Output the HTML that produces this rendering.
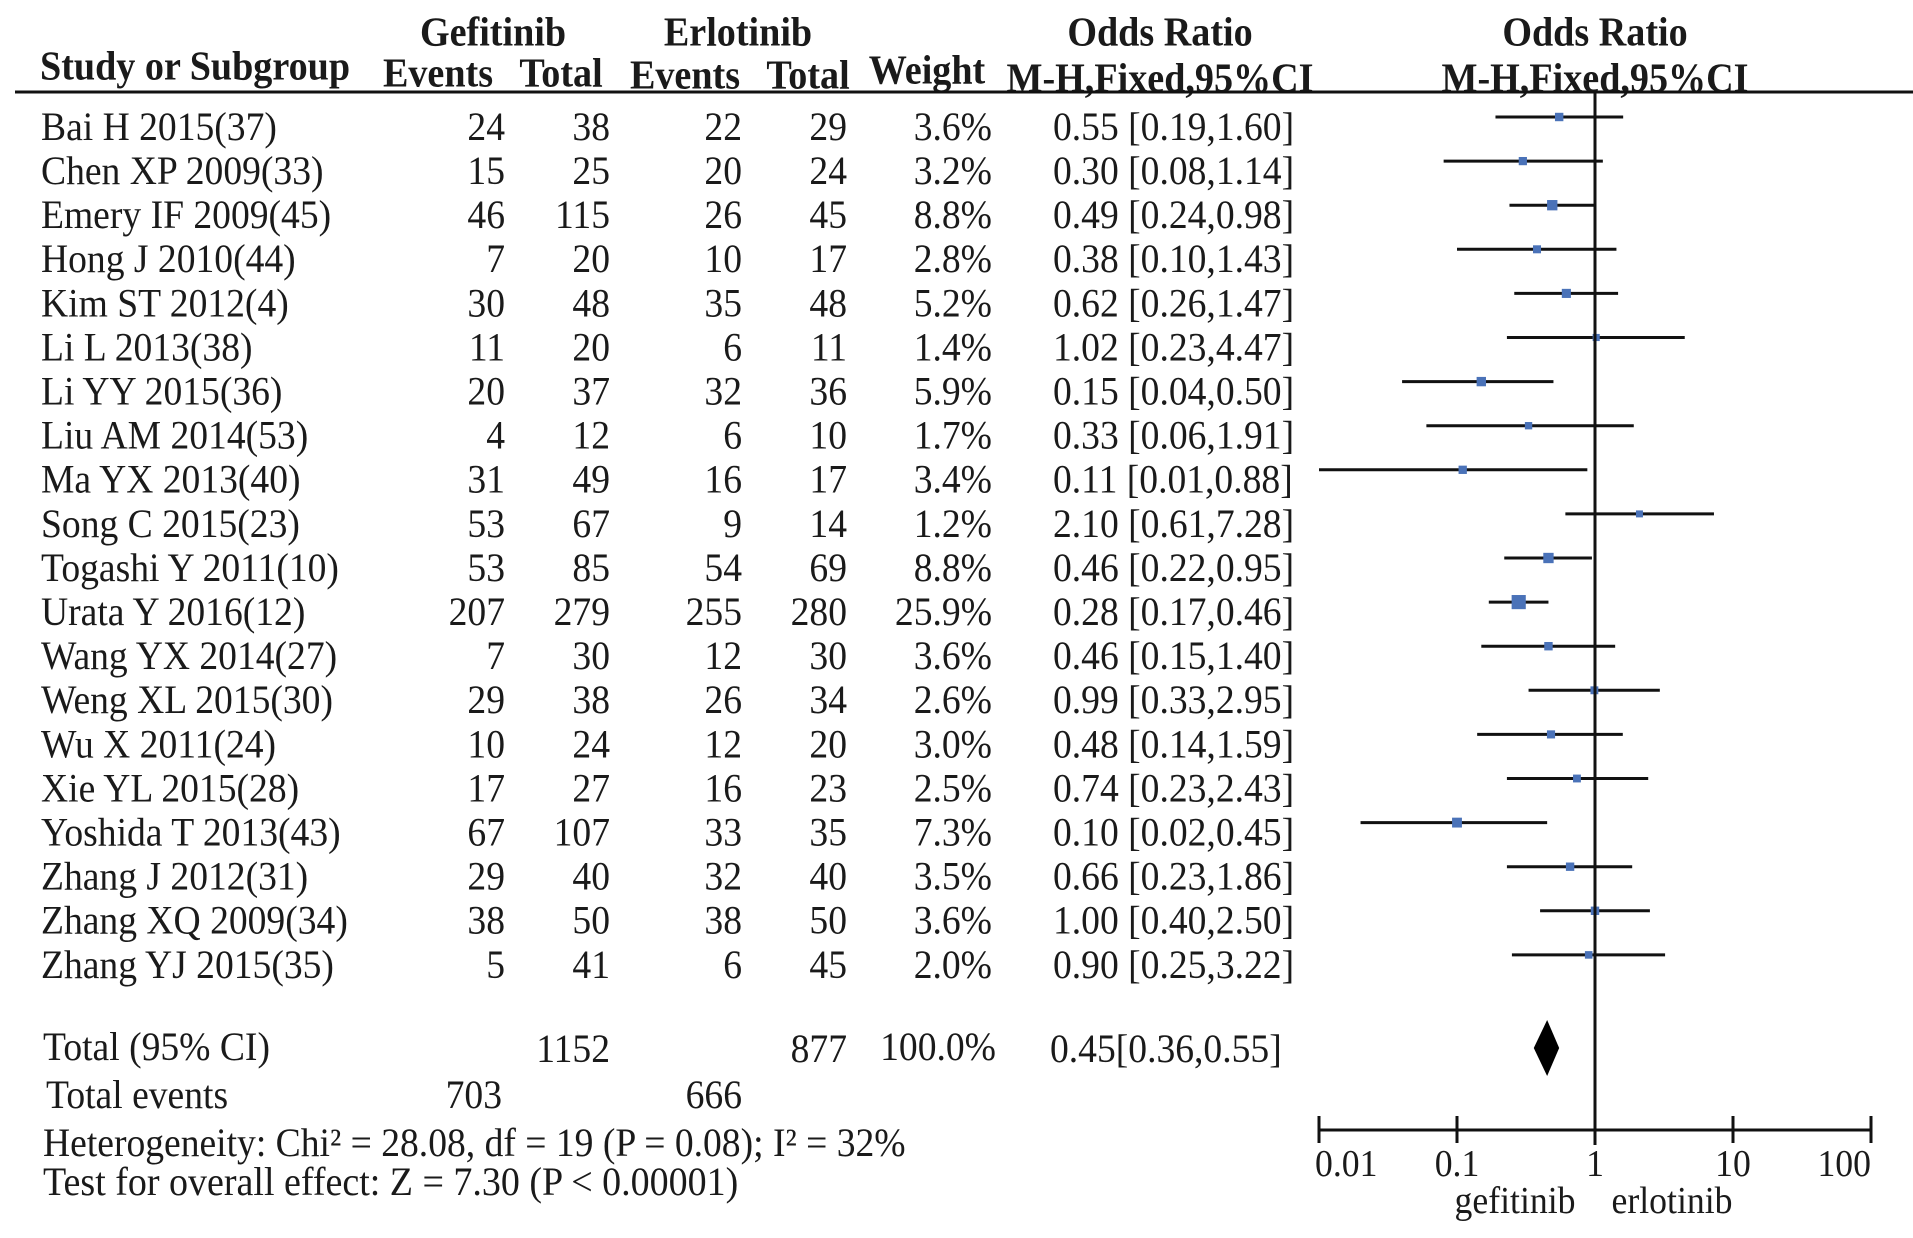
<!DOCTYPE html>
<html><head><meta charset="utf-8"><style>
html,body{margin:0;padding:0;background:#fff;}
svg{display:block;}
text{font-family:"Liberation Serif",serif;fill:#1a1a1a;}
.b{font-weight:bold;}
</style></head><body>
<svg id="chart" width="1913" height="1238" viewBox="0 0 1913 1238" xmlns="http://www.w3.org/2000/svg">
<g id="hdr"></g>
<g id="rows"></g>
<g id="plot"></g>
</svg>
<script>
const studies=["Bai H 2015(37)","Chen XP 2009(33)","Emery IF 2009(45)","Hong J 2010(44)","Kim ST 2012(4)","Li L 2013(38)","Li YY 2015(36)","Liu AM 2014(53)","Ma YX 2013(40)","Song C 2015(23)","Togashi Y 2011(10)","Urata Y 2016(12)","Wang YX 2014(27)","Weng XL 2015(30)","Wu X 2011(24)","Xie YL 2015(28)","Yoshida T 2013(43)","Zhang J 2012(31)","Zhang XQ 2009(34)","Zhang YJ 2015(35)"];
const gefEvents=[24,15,46,7,30,11,20,4,31,53,53,207,7,29,10,17,67,29,38,5];
const gefTotal=[38,25,115,20,48,20,37,12,49,67,85,279,30,38,24,27,107,40,50,41];
const erlEvents=[22,20,26,10,35,6,32,6,16,9,54,255,12,26,12,16,33,32,38,6];
const erlTotal=[29,24,45,17,48,11,36,10,17,14,69,280,30,34,20,23,35,40,50,45];
const weights=[3.6,3.2,8.8,2.8,5.2,1.4,5.9,1.7,3.4,1.2,8.8,25.9,3.6,2.6,3.0,2.5,7.3,3.5,3.6,2.0];
const orVals=[0.55,0.30,0.49,0.38,0.62,1.02,0.15,0.33,0.11,2.10,0.46,0.28,0.46,0.99,0.48,0.74,0.10,0.66,1.00,0.90];
const ciLow=[0.19,0.08,0.24,0.10,0.26,0.23,0.04,0.06,0.01,0.61,0.22,0.17,0.15,0.33,0.14,0.23,0.02,0.23,0.40,0.25];
const ciHigh=[1.60,1.14,0.98,1.43,1.47,4.47,0.50,1.91,0.88,7.28,0.95,0.46,1.40,2.95,1.59,2.43,0.45,1.86,2.50,3.22];
const totalOR=[0.45,0.36,0.55];
const tickVals=[0.01,0.1,1,10,100];
const tickLabels=["0.01","0.1","1","10","100"];

const NS="http://www.w3.org/2000/svg";
const X1=1595, DEC=138;
function xs(v){return X1+DEC*Math.log10(v);}
function rowY(i){return 127+i*44.1;}
function fmt(v){return v.toFixed(2);}
function T(parent,str,x,y,anchor,cls,size,sx){
  const t=document.createElementNS(NS,'text');
  t.setAttribute('transform','translate('+x+','+y+') scale('+(sx||0.94)+',1)');
  t.setAttribute('text-anchor',anchor||'start');
  t.setAttribute('dominant-baseline','central');
  t.setAttribute('font-size',size||40);
  if(cls)t.setAttribute('class',cls);
  t.textContent=str;parent.appendChild(t);return t;
}
function H(str,x,y,anchor){return T(hdr,str,x,y,anchor,'b',41,0.93);}
function L(parent,x1,y1,x2,y2,w){
  const l=document.createElementNS(NS,'line');
  l.setAttribute('x1',x1);l.setAttribute('y1',y1);l.setAttribute('x2',x2);l.setAttribute('y2',y2);
  l.setAttribute('stroke','#111');l.setAttribute('stroke-width',w||3);
  parent.appendChild(l);return l;
}
const hdr=document.getElementById('hdr'),rows=document.getElementById('rows'),plot=document.getElementById('plot');
let e;
e=H('Gefitinib',493,32,'middle');
e=H('Erlotinib',738,32,'middle');
e=H('Odds Ratio',1160,32,'middle');
e=H('Odds Ratio',1595,32,'middle');
e=H('Study or Subgroup',40,66,'start');
e=H('Events',438,73,'middle');
e=H('Total',561,73,'middle');
e=H('Events',685,75,'middle');
e=H('Total',808,75,'middle');
e=H('Weight',927,70,'middle');
e=H('M-H,Fixed,95%CI',1160,78,'middle');
e=H('M-H,Fixed,95%CI',1595,78,'middle');
e=L(hdr,15,92,1913,92,3);

for(let i=0;i<studies.length;i++){
  const y=rowY(i);
  e=T(rows,studies[i],41,y,'start');
  e=T(rows,String(gefEvents[i]),505,y,'end');
  e=T(rows,String(gefTotal[i]),610,y,'end');
  e=T(rows,String(erlEvents[i]),742,y,'end');
  e=T(rows,String(erlTotal[i]),847,y,'end');
  e=T(rows,weights[i].toFixed(1)+'%',992,y,'end');
  e=T(rows,fmt(orVals[i])+' ['+fmt(ciLow[i])+','+fmt(ciHigh[i])+']',1053,y,'start');
  const cy=y-10;
  e=L(plot,xs(ciLow[i]),cy,xs(ciHigh[i]),cy,3);
  const s=5+Math.sqrt(weights[i])*1.8;
  const r=document.createElementNS(NS,'rect');
  r.setAttribute('x',xs(orVals[i])-s/2);r.setAttribute('y',cy-s/2);r.setAttribute('width',s);r.setAttribute('height',s);
  r.setAttribute('fill','#4a72b8');
  
  
  plot.appendChild(r);
}
e=T(rows,'Total (95% CI)',43,1047,'start');
e=T(rows,'1152',610,1049,'end');
e=T(rows,'877',847,1049,'end');
e=T(rows,'100.0%',996,1047,'end');
e=T(rows,fmt(totalOR[0])+'['+fmt(totalOR[1])+','+fmt(totalOR[2])+']',1050,1049,'start');
e=T(rows,'Total events',46,1095,'start');
e=T(rows,'703',502,1095,'end');
e=T(rows,'666',742,1095,'end');
e=T(rows,'Heterogeneity: Chi² = 28.08, df = 19 (P = 0.08); I² = 32%',43,1143,'start',null,40,0.94);
e=T(rows,'Test for overall effect: Z = 7.30 (P < 0.00001)',43,1182,'start',null,40,0.95);

e=L(plot,X1,92,X1,1145,3);
const dy=1048;
const d=document.createElementNS(NS,'polygon');
d.setAttribute('points',xs(totalOR[1])+','+dy+' '+xs(totalOR[0])+','+(dy-28)+' '+xs(totalOR[2])+','+dy+' '+xs(totalOR[0])+','+(dy+28));
d.setAttribute('fill','#000');


plot.appendChild(d);
const ay=1130;
e=L(plot,xs(tickVals[0]),ay,xs(tickVals[tickVals.length-1]),ay,3);
for(let i=0;i<tickVals.length;i++){
  const x=xs(tickVals[i]);
  e=L(plot,x,ay-14,x,ay+13,3);
  e=T(plot,tickLabels[i],i==0?x-4:x,1163,i==0?'start':(i==tickVals.length-1?'end':'middle'),null,38,0.94);
  
}
e=T(plot,'gefitinib',1515,1200,'middle',null,38,0.94);
e=T(plot,'erlotinib',1672,1200,'middle',null,38,0.94);
</script>
</body></html>
